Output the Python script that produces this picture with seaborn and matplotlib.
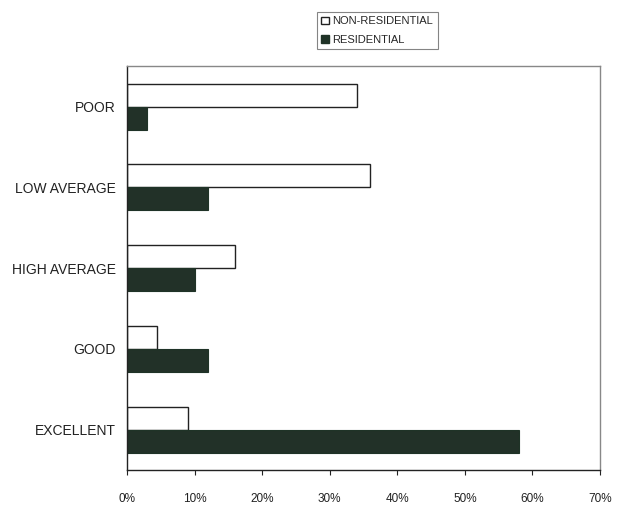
import matplotlib
matplotlib.use("Agg")
import matplotlib.pyplot as plt
import seaborn as sns
import pandas as pd
from matplotlib.patches import Patch
from matplotlib.ticker import FuncFormatter

categories = ["POOR", "LOW AVERAGE", "HIGH AVERAGE", "GOOD", "EXCELLENT"]
non_residential = [34, 36, 16, 4.5, 9]
residential = [3, 12, 10, 12, 58]
series_names = ["NON-RESIDENTIAL", "RESIDENTIAL"]
x_ticks = [0, 10, 20, 30, 40, 50, 60, 70]

rows = []
for c, v in zip(categories, non_residential):
    rows.append({"category": c, "type": series_names[0], "pct": v})
for c, v in zip(categories, residential):
    rows.append({"category": c, "type": series_names[1], "pct": v})
df = pd.DataFrame(rows)

sns.set_style("white")
plt.rcParams["font.family"] = ["Liberation Sans", "DejaVu Sans"]

dark = "#1f3327"
fig = plt.figure(figsize=(6.18, 5.09), dpi=100)
ax = fig.add_axes([0.2055, 0.0766, 0.7655, 0.7934])

sns.barplot(data=df, y="category", x="pct", hue="type", order=categories,
            hue_order=series_names, palette=["white", dark], orient="h",
            width=0.57, ax=ax, legend=False, errorbar=None)

for i, p in enumerate(ax.patches):
    if p.get_facecolor()[:3] == (1.0, 1.0, 1.0):
        p.set_edgecolor("#222222")
        p.set_linewidth(1.0)
    else:
        p.set_edgecolor(dark)
        p.set_linewidth(0.8)

ax.set_xlim(0, 70)
ax.set_ylim(4.5, -0.5)
ax.set_xticks(x_ticks)
ax.xaxis.set_major_formatter(FuncFormatter(lambda v, _: f"{int(v)}%"))
ax.set_xlabel("")
ax.set_ylabel("")
ax.tick_params(axis="x", which="major", bottom=True, length=3.5, width=0.8,
               direction="out", pad=13, labelsize=8.5, colors="#222222")
ax.tick_params(axis="y", length=0, pad=8, labelsize=10, colors="#222222")

for side in ["left", "bottom"]:
    ax.spines[side].set_color("#222222")
    ax.spines[side].set_linewidth(1.0)
for side in ["top", "right"]:
    ax.spines[side].set_color("#888888")
    ax.spines[side].set_linewidth(1.0)
    ax.spines[side].set_visible(True)

handles = [Patch(facecolor="white", edgecolor="#222222", label=series_names[0]),
           Patch(facecolor=dark, edgecolor=dark, label=series_names[1])]
leg = fig.legend(handles=handles, loc="upper left",
                 bbox_to_anchor=(317 / 618, 1 - 12 / 509),
                 frameon=True, fontsize=8, handlelength=0.7, handleheight=0.7,
                 handletextpad=0.3, borderpad=0.4, labelspacing=0.75,
                 fancybox=False, borderaxespad=0)
leg.get_frame().set_edgecolor("#666666")
leg.get_frame().set_linewidth(0.8)

fig.savefig("out.png", dpi=100)
